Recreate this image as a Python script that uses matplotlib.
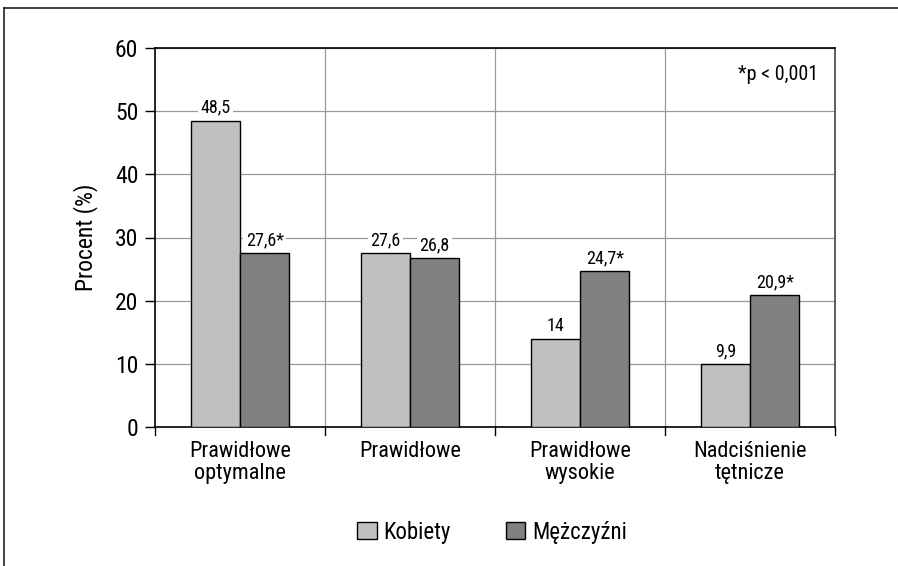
import matplotlib
matplotlib.use("Agg")
import matplotlib.pyplot as plt
import numpy as np
from matplotlib.lines import Line2D
from matplotlib.patches import Patch

plt.rcParams['font.family'] = ['Roboto Condensed', 'Archivo Narrow', 'DejaVu Sans']

categories = ["Prawidłowe\noptymalne", "Prawidłowe", "Prawidłowe\nwysokie", "Nadciśnienie\ntętnicze"]
kobiety = [48.5, 27.6, 14.0, 9.9]
mezczyzni = [27.6, 26.8, 24.7, 20.9]
kobiety_labels = ["48,5", "27,6", "14", "9,9"]
mezczyzni_labels = ["27,6*", "26,8", "24,7*", "20,9*"]
series_names = ["Kobiety", "Mężczyźni"]
yticks = [0, 10, 20, 30, 40, 50, 60]

fig = plt.figure(figsize=(8.98, 5.66), dpi=100)
ax = fig.add_axes([155/898, 1-427/566, (835-155)/898, (427-48)/566])

x = np.arange(len(categories))
w = 0.29
c1, c2 = "#C0C0C0", "#808080"
ax.bar(x - w/2, kobiety, w, color=c1, edgecolor="black", linewidth=1, zorder=3)
ax.bar(x + w/2, mezczyzni, w, color=c2, edgecolor="black", linewidth=1, zorder=3)

for xi, v, l in zip(x - w/2, kobiety, kobiety_labels):
    ax.text(xi, v + 0.6, l, ha="center", va="bottom", fontsize=13,
            bbox=dict(facecolor="white", edgecolor="none", pad=1.5), zorder=4)
for xi, v, l in zip(x + w/2, mezczyzni, mezczyzni_labels):
    ax.text(xi, v + 0.6, l, ha="center", va="bottom", fontsize=13,
            bbox=dict(facecolor="white", edgecolor="none", pad=1.5), zorder=4)

ax.set_xlim(-0.5, len(categories) - 0.5)
ax.set_ylim(0, 60)
ax.set_yticks(yticks)
ax.set_yticklabels([str(t) for t in yticks], fontsize=17)
ax.set_xticks(x)
ax.set_xticklabels(categories, fontsize=16, linespacing=1.05, va="top")
ax.tick_params(axis="x", length=0, pad=10)
ax.tick_params(axis="y", length=7, width=1, direction="out", pad=5)
# boundary ticks on x axis
for b in np.arange(-0.5, len(categories) + 0.5, 1):
    ax.plot([b, b], [0, -1.2], color="black", lw=1, clip_on=False, zorder=5)

ax.yaxis.grid(True, color="#999999", lw=0.9, zorder=0)
for b in np.arange(0.5, len(categories) - 0.5, 1):
    ax.axvline(b, color="#999999", lw=0.9, zorder=0)

for s in ["left", "top", "right", "bottom"]:
    ax.spines[s].set_color("black")
    ax.spines[s].set_linewidth(1.2)
ax.spines["right"].set_color("#444444")

ax.set_ylabel("Procent (%)", fontsize=17, labelpad=12)
ax.text(0.975, 0.93, "*p < 0,001", transform=ax.transAxes, ha="right", va="center", fontsize=14.5)

handles = [Patch(facecolor=c1, edgecolor="black"), Patch(facecolor=c2, edgecolor="black")]
fig.legend(handles, series_names, loc="center", bbox_to_anchor=(492/898, 1-532/566),
           ncol=2, frameon=False, fontsize=16.5, handlelength=0.85, handleheight=0.72,
           handletextpad=0.3, columnspacing=2.4)

# outer frame lines
fig.add_artist(Line2D([4/898, 1], [1-8/566, 1-8/566], color="#222222", lw=1.2))
fig.add_artist(Line2D([4/898, 4/898], [1-8/566, 0], color="#222222", lw=1.2))

fig.savefig("out.png", dpi=100)
